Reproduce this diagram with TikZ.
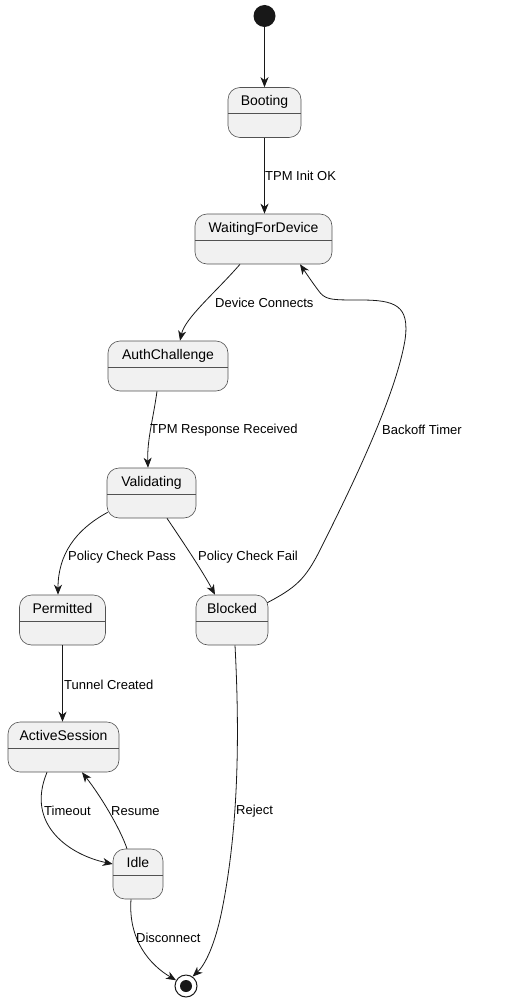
\documentclass[tikz,border=0pt]{standalone}
\usepackage{fontspec}
\setmainfont{Liberation Sans}
\usetikzlibrary{arrows.meta,calc}
\definecolor{stfill}{HTML}{F1F1F1}
\definecolor{ln}{HTML}{181818}
\begin{document}
\begin{tikzpicture}[x=1pt,y=-1pt,
  state/.style={draw=ln!75, line width=0.6pt, fill=stfill, rounded corners=12pt,
    minimum height=50pt, inner sep=0pt, text height=18pt, text depth=32pt,
    font=\fontsize{14}{16}\selectfont,
    path picture={\draw[ln!75,line width=0.6pt]
      ($(path picture bounding box.north west)+(0pt,-26pt)$) --
      ($(path picture bounding box.north east)+(0pt,-26pt)$);}},
  tr/.style={draw=ln, line width=0.8pt, -{Stealth[length=10pt,width=8pt,inset=3pt]}},
  lab/.style={anchor=west, inner sep=0pt, font=\fontsize{13}{15}\selectfont}]
\useasboundingbox (0,0) rectangle (518,1003);

% states
\node[circle, fill=ln, minimum size=22pt, inner sep=0pt] (start) at (264.5,16) {};
\node[state, minimum width=73pt]  (boot)   at (264.5,112.5) {Booting};
\node[state, minimum width=137pt] (wait)   at (263.5,239)   {WaitingForDevice};
\node[state, minimum width=120pt] (auth)   at (168,366)     {AuthChallenge};
\node[state, minimum width=89pt]  (valid)  at (151.5,493)   {Validating};
\node[state, minimum width=86pt]  (perm)   at (62.5,620)    {Permitted};
\node[state, minimum width=72pt]  (block)  at (232,620)     {Blocked};
\node[state, minimum width=111pt] (active) at (63.5,747)    {ActiveSession};
\node[state, minimum width=50pt]  (idle)   at (138,874)     {Idle};
\node[circle, draw=ln, line width=1pt, fill=white, minimum size=22pt, inner sep=0pt,
  path picture={\fill[ln] (path picture bounding box.center) circle (6pt);}] (endn) at (186,986) {};

% transitions
\draw[tr] (start) -- (boot);
\draw[tr] (boot.south) -- (boot.south |- wait.north);
\draw[tr] ($(wait.south)+(-23.5,0)$) .. controls (215,293) and (185,318) .. ($(auth.north)+(12,0)$);
\draw[tr] ($(auth.south)+(-11,0)$) .. controls (153,420) and (147,440) .. ($(valid.north)+(-3.5,0)$);
\draw[tr] ($(valid.south west)+(1,-6)$) .. controls (75,530) and (58,555) .. ($(perm.north)+(-4.5,0)$);
\draw[tr] ($(valid.south)+(15.5,0)$) .. controls (185,545) and (203,572) .. ($(block.north)+(-17,0)$);
\draw[tr] ($(block.north east)+(-1,8)$) .. controls (295,588) and (305,580) .. (320,550)
  .. controls (345,500) and (395,400) .. (405,340)
  .. controls (410,305) and (395,300) .. (360,300)
  .. controls (330,300) and (325,300) .. (318,290)
  .. controls (312,282) and (306,273) .. ($(wait.south)+(36.5,0)$);
\draw[tr] (perm.south) -- (perm.south |- active.north);
\draw[tr] ($(active.south)+(-16.5,0)$) .. controls (25,825) and (70,855) .. ($(idle.west)+(0,-10)$);
\draw[tr] ($(idle.north)+(-11,0)$) .. controls (120,828) and (100,795) .. ($(active.south)+(18.5,0)$);
\draw[tr] ($(idle.south)+(-7,0)$) .. controls (128,940) and (150,965) .. (endn.150);
\draw[tr] ($(block.south)+(3,0)$) .. controls (240,740) and (238,830) .. (222,910)
  .. controls (215,945) and (205,965) .. (endn.55);

% labels
\node[lab] (l1)  at (265,176) {TPM Init OK};
\node[lab] (l2)  at (215,303) {Device Connects};
\node[lab] (l3)  at (150,430) {TPM Response Received};
\node[lab] (l4)  at (382,430) {Backoff Timer};
\node[lab] (l5)  at (68,557)  {Policy Check Pass};
\node[lab] (l6)  at (198,557) {Policy Check Fail};
\node[lab] (l7)  at (64,685)  {Tunnel Created};
\node[lab] (l8)  at (44,811)  {Timeout};
\node[lab] (l9)  at (111,811) {Resume};
\node[lab] (l10) at (236,811) {Reject};
\node[lab] (l11) at (136,938) {Disconnect};
\end{tikzpicture}
\end{document}
